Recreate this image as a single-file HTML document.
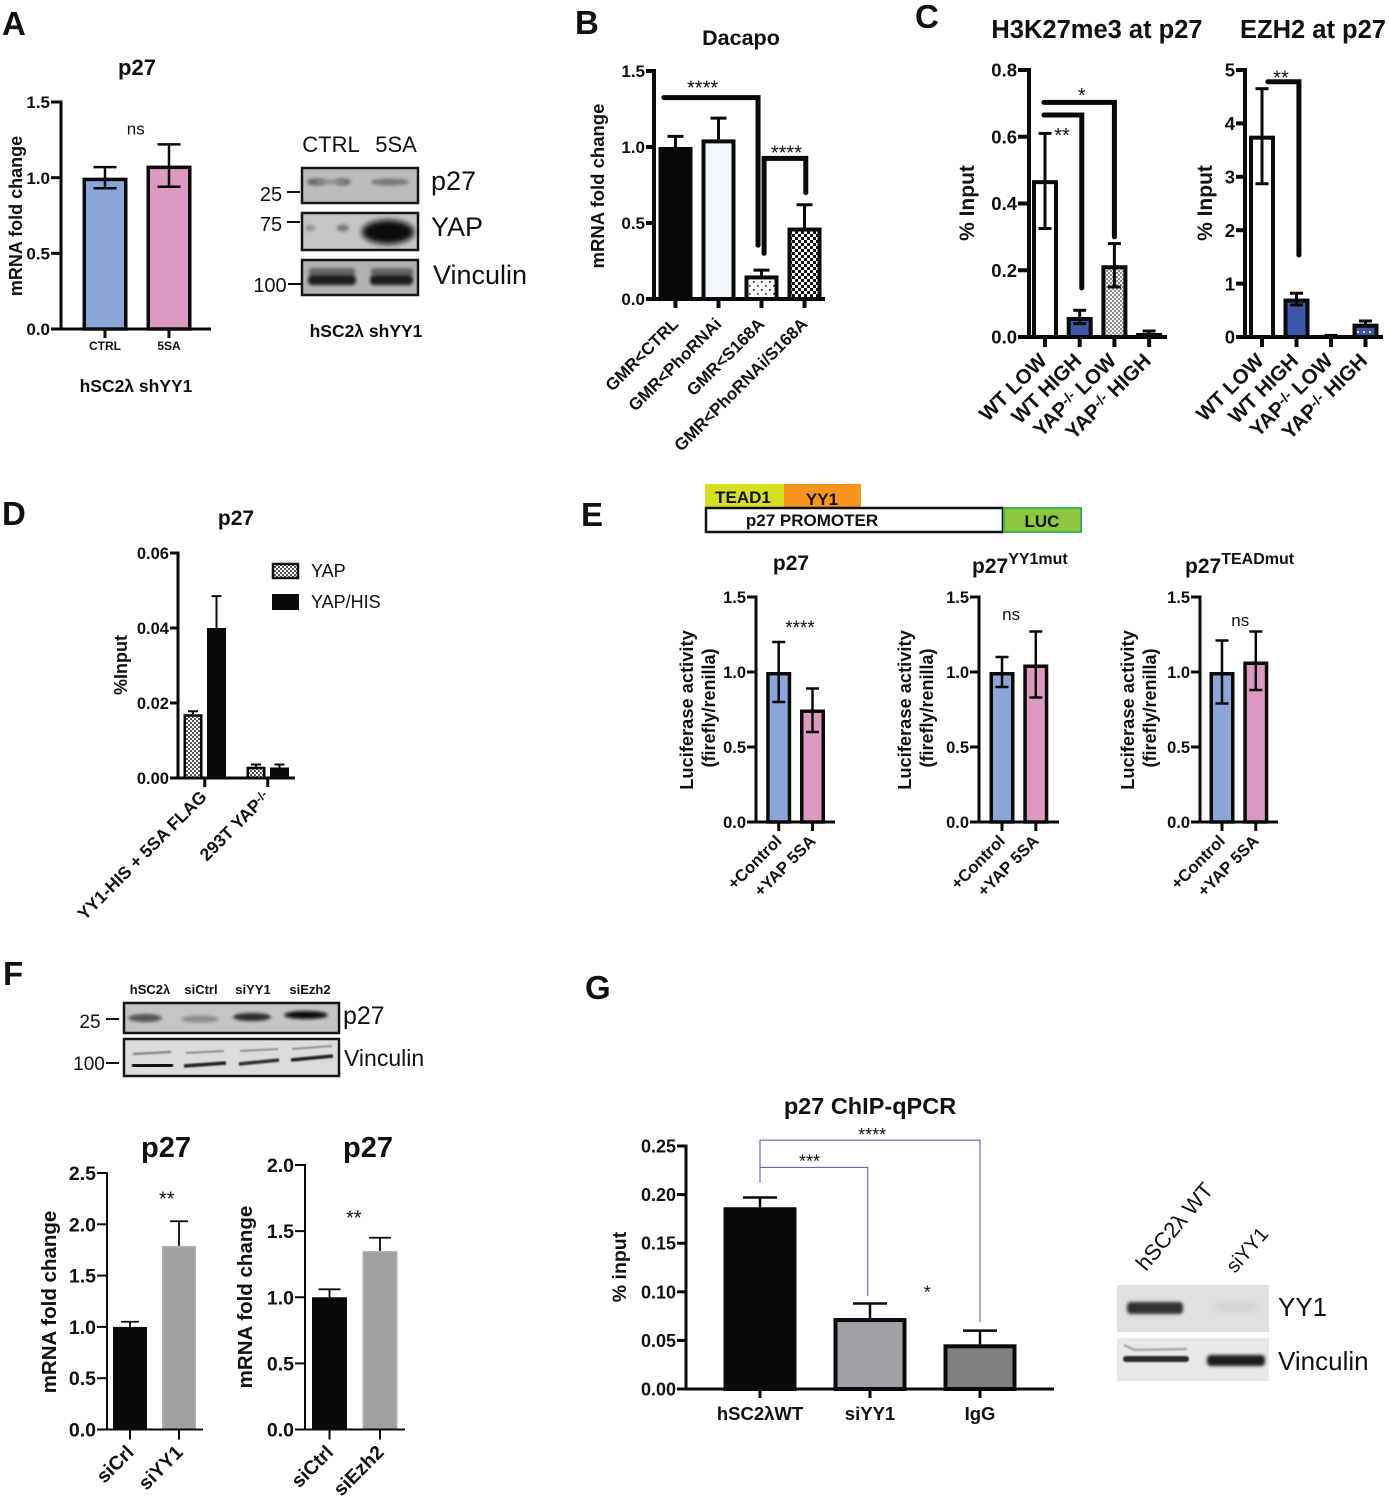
<!DOCTYPE html>
<html>
<head>
<meta charset="utf-8">
<title>p27 figure</title>
<style>
html,body{margin:0;padding:0;background:#fff;width:1389px;height:1500px;overflow:hidden}
svg{display:block}
text{font-family:"Liberation Sans",sans-serif;fill:#111}
</style>
</head>
<body>
<svg id="fig" xmlns="http://www.w3.org/2000/svg" width="1389" height="1500" viewBox="0 0 1389 1500">
<defs>
<pattern id="pDots" width="8" height="8" patternUnits="userSpaceOnUse"><rect width="8" height="8" fill="#fff"/><rect x="1" y="1" width="1.6" height="1.6" fill="#222"/><rect x="5" y="5" width="1.6" height="1.6" fill="#222"/></pattern>
<pattern id="pChecker" width="6" height="6" patternUnits="userSpaceOnUse"><rect width="6" height="6" fill="#fff"/><rect width="3" height="3" fill="#111"/><rect x="3" y="3" width="3" height="3" fill="#111"/></pattern>
<pattern id="pGrayCheck" width="4" height="4" patternUnits="userSpaceOnUse"><rect width="4" height="4" fill="#f0f0f0"/><rect width="2" height="2" fill="#8c8c8c"/><rect x="2" y="2" width="2" height="2" fill="#8c8c8c"/></pattern>
<pattern id="pFine" width="4" height="4" patternUnits="userSpaceOnUse"><rect width="4" height="4" fill="#fff"/><rect width="2" height="2" fill="#555"/><rect x="2" y="2" width="2" height="2" fill="#555"/></pattern>
<pattern id="pBlueDots" width="6" height="6" patternUnits="userSpaceOnUse"><rect width="6" height="6" fill="#3b58a8"/><rect x="1" y="1" width="2" height="2" fill="#dfe6fa"/></pattern>
<filter id="b1" x="-30%" y="-80%" width="160%" height="260%"><feGaussianBlur stdDeviation="1.6"/></filter>
<filter id="b2" x="-30%" y="-80%" width="160%" height="260%"><feGaussianBlur stdDeviation="3"/></filter>
<filter id="b05" x="-30%" y="-80%" width="160%" height="260%"><feGaussianBlur stdDeviation="0.8"/></filter>
</defs>

<g id="letters" font-weight="bold" font-size="33">
<text x="2" y="35" font-weight="bold">A</text>
<text x="575" y="34" font-weight="bold">B</text>
<text x="915" y="28" font-weight="bold">C</text>
<text x="2" y="525" font-weight="bold">D</text>
<text x="581" y="526" font-weight="bold">E</text>
<text x="3" y="985" font-weight="bold">F</text>
<text x="585" y="999" font-weight="bold">G</text>
</g>

<!-- Panel A blots -->
<g>
<text x="331" y="152" font-size="22" text-anchor="middle">CTRL</text>
<text x="396" y="152" font-size="22" text-anchor="middle">5SA</text>
<rect x="302" y="168" width="116" height="35" fill="#bcbcbc" stroke="#151515" stroke-width="2.5"/>
<ellipse cx="316" cy="182" rx="9" ry="3.5" fill="#666" filter="url(#b1)"/>
<ellipse cx="343" cy="182" rx="8" ry="3.5" fill="#707070" filter="url(#b1)"/>
<rect x="316" y="180" width="28" height="4" fill="#8a8a8a" filter="url(#b1)"/>
<ellipse cx="390" cy="182" rx="19" ry="3.5" fill="#777" filter="url(#b1)"/>
<rect x="302" y="213" width="116" height="37" fill="#c4c4c4" stroke="#151515" stroke-width="2.5"/>
<ellipse cx="310" cy="228" rx="5" ry="3" fill="#8f8f8f" filter="url(#b1)"/>
<ellipse cx="343" cy="228" rx="6" ry="3.5" fill="#777" filter="url(#b1)"/>
<ellipse cx="388" cy="232" rx="26" ry="12" fill="#080808" filter="url(#b2)"/>
<rect x="302" y="260" width="116" height="35" fill="#b2b2b2" stroke="#151515" stroke-width="2.5"/>
<rect x="309" y="268" width="46" height="8" rx="3" fill="#666" filter="url(#b1)"/>
<rect x="371" y="268" width="42" height="8" rx="3" fill="#666" filter="url(#b1)"/>
<rect x="308" y="275" width="48" height="10" rx="4" fill="#1c1c1c" filter="url(#b1)"/>
<rect x="370" y="275" width="43" height="10" rx="4" fill="#1c1c1c" filter="url(#b1)"/>
<text x="271" y="201" font-size="20" text-anchor="middle">25</text>
<line x1="287" x2="300" y1="192" y2="192" stroke="#111" stroke-width="2"/>
<text x="271" y="231" font-size="20" text-anchor="middle">75</text>
<line x1="287" x2="300" y1="222" y2="222" stroke="#111" stroke-width="2"/>
<text x="270" y="292" font-size="20" text-anchor="middle">100</text>
<line x1="288" x2="301" y1="284" y2="284" stroke="#111" stroke-width="2"/>
<text x="431" y="190" font-size="27">p27</text>
<text x="431" y="236" font-size="27">YAP</text>
<text x="433" y="284" font-size="27">Vinculin</text>
<text x="366" y="337" font-size="17.5" font-weight="bold" text-anchor="middle">hSC2λ shYY1</text>
</g>

<!-- Panel D legend -->
<g>
<rect x="273" y="564" width="25" height="14" fill="url(#pFine)" stroke="#111" stroke-width="2.5"/>
<text x="311" y="577" font-size="18">YAP</text>
<rect x="272" y="594" width="27" height="16" fill="#0a0a0a"/>
<text x="311" y="608" font-size="18">YAP/HIS</text>
</g>

<!-- Panel E promoter diagram -->
<g>
<rect x="705" y="484" width="79" height="23" fill="#d7df23"/>
<rect x="784" y="484" width="77" height="23" fill="#f7941d"/>
<rect x="706" y="508" width="297" height="24" fill="#fff" stroke="#111" stroke-width="2.5"/>
<rect x="1004" y="508" width="77" height="24" fill="#8dc63f" stroke="#39b54a" stroke-width="2"/>
<text x="743" y="503" font-size="17" font-weight="bold" text-anchor="middle">TEAD1</text>
<text x="822" y="505" font-size="17" font-weight="bold" text-anchor="middle">YY1</text>
<text x="812" y="526" font-size="17" font-weight="bold" text-anchor="middle">p27 PROMOTER</text>
<text x="1042" y="527" font-size="17" font-weight="bold" text-anchor="middle">LUC</text>
<text x="972" y="573" font-size="21" font-weight="bold">p27<tspan font-size="16" dy="-9">YY1mut</tspan></text>
<text x="1185" y="573" font-size="21" font-weight="bold">p27<tspan font-size="16" dy="-9">TEADmut</tspan></text>
</g>

<!-- Panel F blots -->
<g>
<text x="150" y="994" font-size="13" font-weight="bold" text-anchor="middle">hSC2λ</text>
<text x="201" y="994" font-size="13" font-weight="bold" text-anchor="middle">siCtrl</text>
<text x="253" y="994" font-size="13" font-weight="bold" text-anchor="middle">siYY1</text>
<text x="310" y="994" font-size="13" font-weight="bold" text-anchor="middle">siEzh2</text>
<rect x="124" y="1003" width="215" height="30" fill="#c4c4c4" stroke="#151515" stroke-width="2.5"/>
<ellipse cx="145" cy="1018" rx="17" ry="4" fill="#555" filter="url(#b1)"/>
<ellipse cx="200" cy="1019" rx="19" ry="3.5" fill="#8c8c8c" filter="url(#b1)"/>
<ellipse cx="252" cy="1017" rx="19" ry="4" fill="#2a2a2a" filter="url(#b1)"/>
<ellipse cx="306" cy="1015" rx="22" ry="4" fill="#0d0d0d" filter="url(#b1)"/>
<rect x="124" y="1039" width="215" height="37" fill="#dcdcdc" stroke="#151515" stroke-width="2.5"/>
<path d="M132 1066L173 1065" stroke="#111" stroke-width="5" filter="url(#b05)"/>
<path d="M184 1066L226 1063" stroke="#222" stroke-width="3.5" filter="url(#b05)"/>
<path d="M239 1064L279 1060" stroke="#333" stroke-width="3.5" filter="url(#b05)"/>
<path d="M291 1060L333 1056" stroke="#222" stroke-width="3.5" filter="url(#b05)"/>
<path d="M133 1054L171 1052" stroke="#888" stroke-width="2.5" filter="url(#b05)"/>
<path d="M186 1053L224 1051" stroke="#888" stroke-width="1.8" filter="url(#b05)"/>
<path d="M240 1051L278 1049" stroke="#888" stroke-width="1.8" filter="url(#b05)"/>
<path d="M292 1049L332 1046" stroke="#888" stroke-width="1.8" filter="url(#b05)"/>
<text x="90" y="1028" font-size="19" text-anchor="middle">25</text>
<line x1="106" x2="119" y1="1019" y2="1019" stroke="#111" stroke-width="2"/>
<text x="89" y="1070" font-size="19" text-anchor="middle">100</text>
<line x1="106" x2="119" y1="1063" y2="1063" stroke="#111" stroke-width="2"/>
<text x="343" y="1024" font-size="25">p27</text>
<text x="344" y="1066" font-size="23">Vinculin</text>
</g>

<!-- Panel G blots -->
<g>
<text transform="translate(1146,1272) rotate(-50)" font-size="22">hSC2λ WT</text>
<text transform="translate(1235,1274) rotate(-49)" font-size="20">siYY1</text>
<rect x="1117" y="1285" width="152" height="47" fill="#e0e0e0"/>
<rect x="1127" y="1302" width="56" height="12" rx="4" fill="#333" filter="url(#b1)"/>
<ellipse cx="1236" cy="1307" rx="24" ry="6" fill="#d4d4d4" filter="url(#b2)"/>
<rect x="1117" y="1338" width="152" height="43" fill="#e8e8e8"/>
<rect x="1123" y="1356" width="66" height="6" rx="3" fill="#2a2a2a" filter="url(#b05)"/>
<rect x="1207" y="1355" width="58" height="11" rx="4" fill="#1a1a1a" filter="url(#b1)"/>
<path d="M1124 1345L1135 1350L1187 1349" fill="none" stroke="#aaa" stroke-width="2.5" filter="url(#b05)"/>
<text x="1278" y="1316" font-size="26">YY1</text>
<text x="1278" y="1370" font-size="26">Vinculin</text>
</g>

<g id="charts"></g>
</svg>

<script>
// ---------- Panel A ----------
const panelACategories = ['CTRL', '5SA'];
const panelAValues = [1.0, 1.08];
const panelAUpper = [1.07, 1.22];
const panelALower = [0.93, 0.94];
const panelATicks = ['0.0', '0.5', '1.0', '1.5'];
// ---------- Panel B ----------
const panelBCategories = ['GMR<CTRL', 'GMR<PhoRNAi', 'GMR<S168A', 'GMR<PhoRNAi/S168A'];
const panelBValues = [1.0, 1.05, 0.155, 0.47];
const panelBUpper = [1.07, 1.19, 0.19, 0.62];
const panelBTicks = ['0.0', '0.5', '1.0', '1.5'];
// ---------- Panel C ----------
const panelCCategories = ['WT LOW', 'WT HIGH', 'YAP^-/-^ LOW', 'YAP^-/-^ HIGH'];
const panelC1Values = [0.47, 0.06, 0.215, 0.012];
const panelC1Upper = [0.61, 0.08, 0.28, 0.018];
const panelC1Lower = [0.325, 0.04, 0.15, 0.006];
const panelC1Ticks = ['0.0', '0.2', '0.4', '0.6', '0.8'];
const panelC2Values = [3.77, 0.72, 0.02, 0.25];
const panelC2Upper = [4.65, 0.82, 0.03, 0.3];
const panelC2Lower = [2.87, 0.6, 0.01, 0.2];
const panelC2Ticks = ['0', '1', '2', '3', '4', '5'];
// ---------- Panel D ----------
const panelDCategories = ['YY1-HIS + 5SA FLAG', '293T YAP^-/-^'];
const panelDYap = [0.017, 0.003];
const panelDYapUpper = [0.0178, 0.0036];
const panelDYapHis = [0.04, 0.0028];
const panelDYapHisUpper = [0.0485, 0.0036];
const panelDTicks = ['0.00', '0.02', '0.04', '0.06'];
// ---------- Panel E ----------
const panelECategories = ['+Control', '+YAP 5SA'];
const panelE1Values = [1.0, 0.75];
const panelE1Upper = [1.2, 0.89];
const panelE1Lower = [0.8, 0.6];
const panelE2Values = [1.0, 1.05];
const panelE2Upper = [1.1, 1.27];
const panelE2Lower = [0.9, 0.83];
const panelE3Values = [1.0, 1.07];
const panelE3Upper = [1.21, 1.27];
const panelE3Lower = [0.79, 0.88];
const panelETicks = ['0.0', '0.5', '1.0', '1.5'];
// ---------- Panel F ----------
const panelF1Categories = ['siCrl', 'siYY1'];
const panelF1Values = [1.0, 1.79];
const panelF1Upper = [1.05, 2.03];
const panelF1Ticks = ['0.0', '0.5', '1.0', '1.5', '2.0', '2.5'];
const panelF2Categories = ['siCtrl', 'siEzh2'];
const panelF2Values = [1.0, 1.35];
const panelF2Upper = [1.06, 1.45];
const panelF2Ticks = ['0.0', '0.5', '1.0', '1.5', '2.0'];
// ---------- Panel G ----------
const panelGCategories = ['hSC2λWT', 'siYY1', 'IgG'];
const panelGValues = [0.187, 0.073, 0.046];
const panelGUpper = [0.197, 0.088, 0.06];
const panelGTicks = ['0.00', '0.05', '0.10', '0.15', '0.20', '0.25'];

const NS = 'http://www.w3.org/2000/svg';
const root = document.getElementById('charts');

function mk(parent, tag, attrs, name) {
  const el = document.createElementNS(NS, tag);
  for (const k in attrs) el.setAttribute(k, attrs[k]);
  
  
  parent.appendChild(el);
  return el;
}
function line(g, x1, y1, x2, y2, color, w, name) {
  return mk(g, 'line', { x1: x1, y1: y1, x2: x2, y2: y2, stroke: color, 'stroke-width': w }, name);
}
function txt(g, x, y, s, attrs, name) {
  const el = mk(g, 'text', Object.assign({ x: x, y: y }, attrs), name);
  const parts = String(s).split('^');
  parts.forEach(function (p, i) {
    if (!p) return;
    if (i % 2 === 0 && parts.length === 1) { el.textContent = p; return; }
    const t = document.createElementNS(NS, 'tspan');
    t.textContent = p;
    if (i % 2 === 1) { t.setAttribute('font-size', '70%'); t.setAttribute('baseline-shift', '35%'); }
    el.appendChild(t);
  });
  return el;
}

function drawChart(c) {
  const g = mk(root, 'g', {}, c.name);
  const yMax = c.yMax;
  const yS = function (v) { return c.y0 - (v / yMax) * (c.y0 - c.yTop); };
  const xS = c.x || function (i) { return c.first + i * c.step; };
  const n = c.values.length;

  // bars
  for (let i = 0; i < n; i++) {
    const sw = c.barStroke;
    const fill = c.fills[i];
    const top = yS(c.values[i]);
    mk(g, 'rect', {
      x: xS(i) - c.barW / 2 + sw / 2,
      y: top + sw / 2,
      width: c.barW - sw,
      height: Math.max(0, c.y0 - top - sw / 2),
      fill: fill,
      stroke: c.strokes ? c.strokes[i] : '#0a0a0a',
      'stroke-width': sw
    }, c.name + '-bar-' + i);
  }
  // error bars
  for (let i = 0; i < n; i++) {
    if (!c.upper) break;
    const hi = yS(c.upper[i]);
    const lo = c.lower ? yS(c.lower[i]) : yS(c.values[i]);
    const x = xS(i);
    line(g, x, hi, x, lo, '#0a0a0a', c.errW, c.name + '-error-stem-' + i);
    line(g, x - c.cap / 2, hi, x + c.cap / 2, hi, '#0a0a0a', c.errW, c.name + '-error-cap-upper-' + i);
    if (c.lower) line(g, x - c.cap / 2, lo, x + c.cap / 2, lo, '#0a0a0a', c.errW, c.name + '-error-cap-lower-' + i);
  }
  // axes
  const aw = c.axisW;
  line(g, c.axisX, c.yTop - aw / 2, c.axisX, c.y0 + aw / 2, '#0a0a0a', aw, c.name + '-y-axis');
  line(g, c.axisX - c.tickL, c.y0, c.xEnd, c.y0, '#0a0a0a', aw, c.name + '-x-axis');
  // y ticks
  c.ticks.forEach(function (label, i) {
    const v = (i / (c.ticks.length - 1)) * yMax;
    const y = yS(v);
    line(g, c.axisX - c.tickL, y, c.axisX, y, '#0a0a0a', aw, c.name + '-y-tick-' + i);
    txt(g, c.axisX - c.tickL - 1, y + c.tickFont * 0.36, label, { 'font-size': c.tickFont, 'font-weight': 'bold', 'text-anchor': 'end' }, c.name + '-y-tick-label-' + i);
  });
  // x ticks + labels
  const tickIdx = c.tickIdx || c.categories.map(function (_, i) { return i; });
  c.categories.forEach(function (label, i) {
    const x = xS(tickIdx[i]);
    line(g, x, c.y0, x, c.y0 + c.xTickL, '#0a0a0a', aw, c.name + '-x-tick-' + i);
    const lab = c.xLabel;
    const attrs = { 'font-size': lab.size, 'font-weight': lab.weight || 'bold' };
    if (lab.angle) {
      attrs['text-anchor'] = 'end';
      const tx = x + lab.dx, ty = c.y0 + lab.dy;
      attrs.transform = 'rotate(' + lab.angle + ' ' + tx + ' ' + ty + ')';
      txt(g, tx, ty, label, attrs, c.name + '-x-label-' + i);
    } else {
      attrs['text-anchor'] = 'middle';
      txt(g, x, c.y0 + lab.dy, label, attrs, c.name + '-x-label-' + i);
    }
  });
  // brackets (drawn in data units)
  (c.brackets || []).forEach(function (b, i) {
    const xa = xS(b.from), xb = xS(b.to), yl = yS(b.level);
    let d = '';
    if (b.dropFrom !== undefined) d += 'M' + xa + ' ' + yS(b.dropFrom) + 'L' + xa + ' ' + yl;
    else d += 'M' + xa + ' ' + yl;
    d += 'L' + xb + ' ' + yl + 'L' + xb + ' ' + yS(b.dropTo);
    mk(g, 'path', {
      d: d, fill: 'none', stroke: c.bracketColor || '#0a0a0a',
      'stroke-width': c.bracketW, 'stroke-linecap': c.bracketCap || 'round', 'stroke-linejoin': 'miter'
    }, c.name + '-bracket-' + i);
  });
  // significance labels
  (c.sigs || []).forEach(function (s, i) {
    const size = s.size || 20;
    const offset = s.text.indexOf('*') >= 0 ? size * 0.6 : size * 0.3;
    txt(g, xS(s.i), yS(s.v) + offset, s.text, { 'font-size': size, 'text-anchor': 'middle' }, c.name + '-significance-' + i);
  });
  // title
  if (c.title) txt(g, c.title.x, c.title.y, c.title.text, { 'font-size': c.title.size, 'font-weight': 'bold', 'text-anchor': 'middle' }, c.name + '-title');
  // y-axis title(s)
  c.yTitles.forEach(function (t, i) {
    txt(g, t.x, t.y, t.text, {
      'font-size': t.size, 'font-weight': 'bold', 'text-anchor': 'middle',
      transform: 'rotate(-90 ' + t.x + ' ' + t.y + ')'
    }, c.name + '-y-axis-title-' + i);
  });
}

const BLUE = '#8aa6d8', PINK = '#dc9ac3';

drawChart({
  name: 'chart-a', axisX: 61, yTop: 102, y0: 329, yMax: 1.5, xEnd: 211, tickL: 10, xTickL: 9, axisW: 3,
  first: 105, step: 64, barW: 45, barStroke: 3.5, fills: [BLUE, PINK],
  categories: panelACategories, values: panelAValues, upper: panelAUpper, lower: panelALower, ticks: panelATicks,
  errW: 2.5, cap: 23, tickFont: 17, xLabel: { size: 12, dy: 21 },
  sigs: [{ i: 0.48, v: 1.32, text: 'ns', size: 17 }],
  title: { x: 137, y: 75, text: 'p27', size: 22 },
  yTitles: [{ x: 22, y: 216, text: 'mRNA fold change', size: 18 }]
});
txt(root, 136, 392, 'hSC2λ shYY1', { 'font-size': 17.5, 'font-weight': 'bold', 'text-anchor': 'middle' }, 'chart-a-caption');

drawChart({
  name: 'chart-b', axisX: 654, yTop: 71, y0: 299, yMax: 1.5, xEnd: 825, tickL: 8, xTickL: 9, axisW: 4,
  first: 675.5, step: 43, barW: 34, barStroke: 4, fills: ['#0a0a0a', '#f4f6fd', 'url(#pDots)', 'url(#pChecker)'],
  categories: panelBCategories, values: panelBValues, upper: panelBUpper, ticks: panelBTicks,
  errW: 3, cap: 16, tickFont: 17, xLabel: { size: 17, angle: -45, dx: 4, dy: 26 },
  bracketW: 5, brackets: [
    { from: -0.27, to: 1.92, level: 1.325, dropTo: 0.354 },
    { from: 2.06, to: 3.03, level: 0.925, dropFrom: 0.3, dropTo: 0.7 }
  ],
  sigs: [{ i: 0.63, v: 1.425, text: '****' }, { i: 2.58, v: 0.997, text: '****' }],
  title: { x: 741, y: 45, text: 'Dacapo', size: 21.5 },
  yTitles: [{ x: 604, y: 186, text: 'mRNA fold change', size: 18.5 }]
});

drawChart({
  name: 'chart-c1', axisX: 1029, yTop: 70, y0: 337, yMax: 0.8, xEnd: 1167, tickL: 11, xTickL: 10, axisW: 4,
  first: 1045, step: 34.7, barW: 26, barStroke: 4, fills: ['#fff', '#3b58a8', 'url(#pGrayCheck)', '#222'],
  categories: panelCCategories, values: panelC1Values, upper: panelC1Upper, lower: panelC1Lower, ticks: panelC1Ticks,
  errW: 3, cap: 13, tickFont: 18.5, xLabel: { size: 20.5, angle: -45, dx: 3, dy: 25 },
  bracketW: 5, brackets: [
    { from: -0.03, to: 2.0, level: 0.703, dropTo: 0.3 },
    { from: -0.03, to: 1.06, level: 0.665, dropTo: 0.147 }
  ],
  sigs: [{ i: 1.06, v: 0.74, text: '*' }, { i: 0.49, v: 0.62, text: '**' }],
  title: { x: 1097, y: 38, text: 'H3K27me3 at p27', size: 25.5 },
  yTitles: [{ x: 974, y: 203, text: '% Input', size: 21 }]
});

drawChart({
  name: 'chart-c2', axisX: 1245, yTop: 70, y0: 337, yMax: 5, xEnd: 1383, tickL: 9, xTickL: 10, axisW: 4,
  first: 1262, step: 34.5, barW: 26, barStroke: 4, fills: ['#fff', '#3b58a8', '#fff', 'url(#pBlueDots)'],
  categories: panelCCategories, values: panelC2Values, upper: panelC2Upper, lower: panelC2Lower, ticks: panelC2Ticks,
  errW: 3, cap: 13, tickFont: 18.5, xLabel: { size: 20.5, angle: -45, dx: 3, dy: 25 },
  bracketW: 5, brackets: [{ from: 0.17, to: 1.07, level: 4.78, dropTo: 1.535 }],
  sigs: [{ i: 0.55, v: 4.95, text: '**' }],
  title: { x: 1313, y: 38, text: 'EZH2 at p27', size: 25.5 },
  yTitles: [{ x: 1212, y: 203, text: '% Input', size: 21 }]
});

// Panel D: interleave the two series inside each group
const dValues = [], dUpper = [];
panelDYap.forEach(function (v, i) {
  dValues.push(v, panelDYapHis[i]);
  dUpper.push(panelDYapUpper[i], panelDYapHisUpper[i]);
});
drawChart({
  name: 'chart-d', axisX: 178, yTop: 553, y0: 778, yMax: 0.06, xEnd: 295, tickL: 8, xTickL: 9, axisW: 3,
  x: function (i) { const grp = Math.floor(i / 2); const frac = i - grp * 2; return 193 + grp * 63 + frac * 23.5; },
  tickIdx: [0.5, 2.5], barW: 19, barStroke: 2.5,
  fills: ['url(#pFine)', '#0a0a0a', 'url(#pFine)', '#0a0a0a'],
  categories: panelDCategories, values: dValues, upper: dUpper, ticks: panelDTicks,
  errW: 2, cap: 10, tickFont: 16.5, xLabel: { size: 17.5, angle: -45, dx: 3, dy: 20 },
  title: { x: 236, y: 525, text: 'p27', size: 21 },
  yTitles: [{ x: 127, y: 665, text: '%Input', size: 18 }]
});

function drawE(name, axisX, first, xEnd, vals, up, lo, sigs, title, t1x, t2x) {
  drawChart({
    name: name, axisX: axisX, yTop: 597, y0: 822, yMax: 1.5, xEnd: xEnd, tickL: 9, xTickL: 9, axisW: 3,
    first: first, step: 33.8, barW: 25, barStroke: 3.5, fills: [BLUE, PINK],
    categories: panelECategories, values: vals, upper: up, lower: lo, ticks: panelETicks,
    errW: 2.5, cap: 13, tickFont: 16.5, xLabel: { size: 16.5, angle: -45, dx: 4, dy: 20 },
    sigs: sigs, title: title,
    yTitles: [
      { x: t1x, y: 710, text: 'Luciferase activity', size: 18.3 },
      { x: t2x, y: 708, text: '(firefly/renilla)', size: 18 }
    ]
  });
}
drawE('chart-e1', 756, 778.7, 835, panelE1Values, panelE1Upper, panelE1Lower,
  [{ i: 0.63, v: 1.33, text: '****', size: 19 }], { x: 791, y: 570, text: 'p27', size: 21 }, 693, 715);
drawE('chart-e2', 979, 1002, 1059, panelE2Values, panelE2Upper, panelE2Lower,
  [{ i: 0.27, v: 1.38, text: 'ns', size: 17 }], null, 911, 933);
drawE('chart-e3', 1200, 1222, 1278, panelE3Values, panelE3Upper, panelE3Lower,
  [{ i: 0.54, v: 1.34, text: 'ns', size: 17 }], null, 1134, 1156);

drawChart({
  name: 'chart-f1', axisX: 107, yTop: 1173, y0: 1429.5, yMax: 2.5, xEnd: 203, tickL: 10, xTickL: 10, axisW: 2,
  first: 130, step: 49, barW: 34, barStroke: 1.5, fills: ['#0a0a0a', '#a0a0a2'], strokes: ['#0a0a0a', '#b0b0b2'],
  categories: panelF1Categories, values: panelF1Values, upper: panelF1Upper, ticks: panelF1Ticks,
  errW: 1.8, cap: 18, tickFont: 19.5, xLabel: { size: 19.5, angle: -45, dx: 5, dy: 24 },
  sigs: [{ i: 0.75, v: 2.3 }].map(function (s) { s.text = '**'; return s; }),
  title: { x: 166, y: 1157, text: 'p27', size: 29 },
  yTitles: [{ x: 56, y: 1302, text: 'mRNA fold change', size: 20.5 }]
});
drawChart({
  name: 'chart-f2', axisX: 305, yTop: 1165, y0: 1429.5, yMax: 2, xEnd: 405, tickL: 10, xTickL: 10, axisW: 2,
  first: 329.5, step: 50.5, barW: 35, barStroke: 1.5, fills: ['#0a0a0a', '#a0a0a2'], strokes: ['#0a0a0a', '#b0b0b2'],
  categories: panelF2Categories, values: panelF2Values, upper: panelF2Upper, ticks: panelF2Ticks,
  errW: 1.8, cap: 22, tickFont: 19.5, xLabel: { size: 19.5, angle: -45, dx: 5, dy: 24 },
  sigs: [{ i: 0.48, v: 1.64, text: '**' }],
  title: { x: 368, y: 1157, text: 'p27', size: 29 },
  yTitles: [{ x: 252, y: 1297, text: 'mRNA fold change', size: 20.5 }]
});

drawChart({
  name: 'chart-g', axisX: 686, yTop: 1146, y0: 1389, yMax: 0.25, xEnd: 1054, tickL: 9, xTickL: 9, axisW: 3,
  first: 760, step: 110, barW: 73, barStroke: 4, fills: ['#0a0a0a', '#a0a2a6', '#808281'],
  categories: panelGCategories, values: panelGValues, upper: panelGUpper, ticks: panelGTicks,
  errW: 2.5, cap: 34, tickFont: 18, xLabel: { size: 18.5, dy: 31 },
  bracketW: 1, bracketColor: '#55559a', bracketCap: 'butt', brackets: [
    { from: 0, to: 2, level: 0.256, dropFrom: 0.212, dropTo: 0.0689 },
    { from: 0, to: 0.98, level: 0.228, dropTo: 0.0957 }
  ],
  sigs: [{ i: 1.02, v: 0.2665, text: '****', size: 18 }, { i: 0.45, v: 0.239, text: '***', size: 18 }, { i: 1.52, v: 0.104, text: '*', size: 18 }],
  title: { x: 870, y: 1114, text: 'p27 ChIP-qPCR', size: 23.5 },
  yTitles: [{ x: 626, y: 1267, text: '% input', size: 19.5 }]
});
</script>
</body>
</html>
